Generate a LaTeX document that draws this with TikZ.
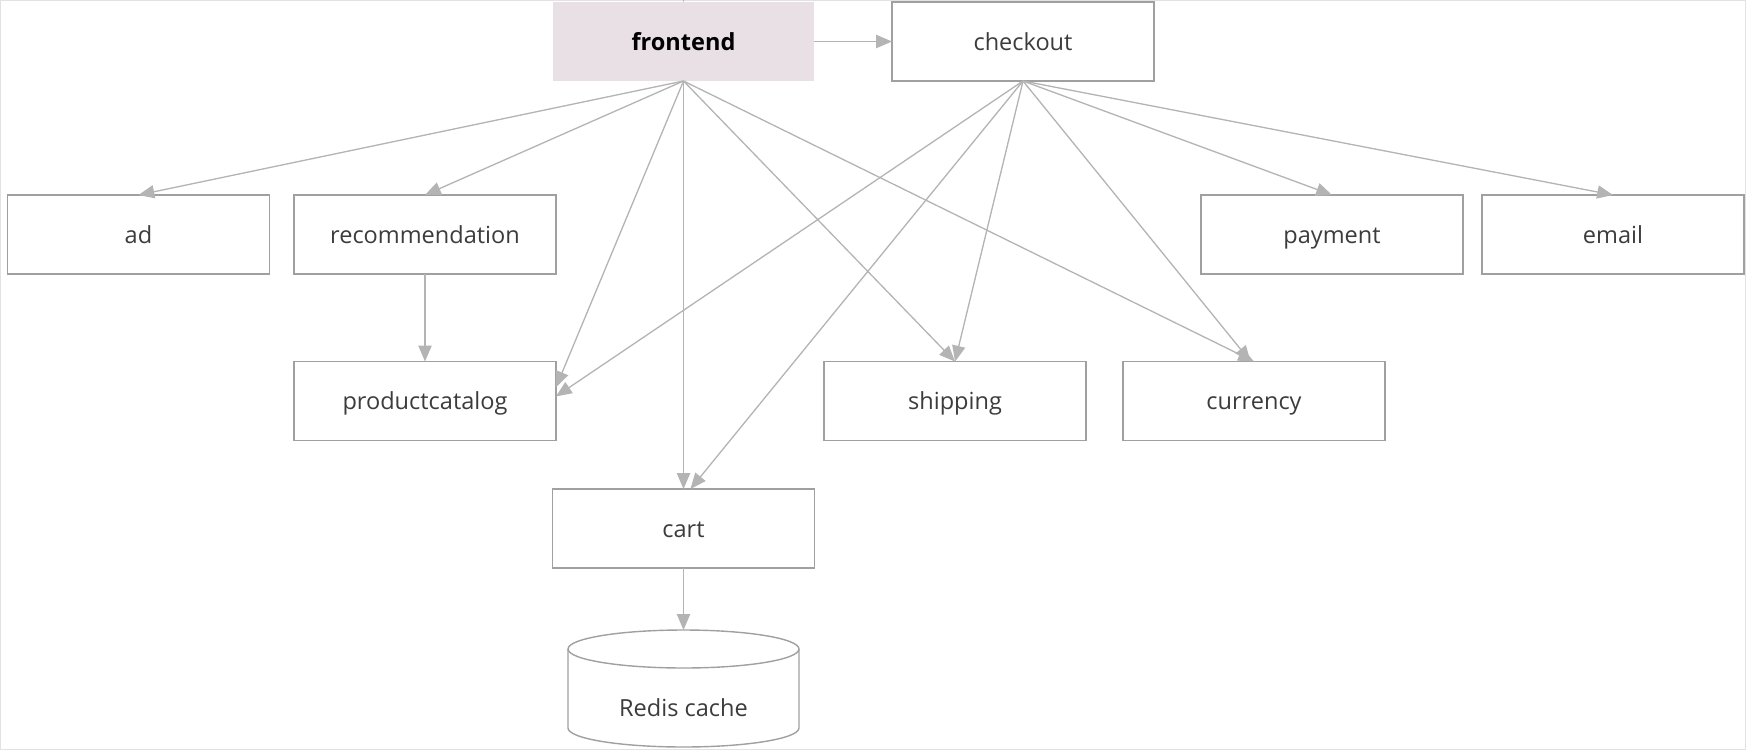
\documentclass[tikz,border=0pt]{standalone}
\usepackage{fontspec}
\setmainfont{Open Sans}
\usetikzlibrary{arrows.meta}
\definecolor{edgegray}{HTML}{B4B4B4}
\definecolor{boxgray}{HTML}{A0A0A0}
\definecolor{textgray}{HTML}{3C3C3C}
\definecolor{frontfill}{HTML}{E8E0E4}
\definecolor{framegray}{HTML}{E2E2E2}
\begin{document}
\begin{tikzpicture}[x=0.02cm,y=-0.02cm,
  svc/.style={draw=boxgray,line width=0.8pt,minimum width=5.24cm,minimum height=1.58cm,
    inner sep=0pt,outer sep=0pt,text=textgray,text height=1em,text depth=0pt,
    font=\fontsize{13.4}{15}\selectfont},
  call/.style={draw=edgegray,line width=0.75pt,-{Triangle[length=9pt,width=7.5pt]}}]
\useasboundingbox (0,0) rectangle (1746,750);
\clip (0,0) rectangle (1746,750);
\draw[framegray,line width=0.6pt] (0.5,0.5) rectangle (1745.5,749.5);
\node[svc,draw=none,fill=frontfill,text=black,font=\fontsize{13.4}{15}\selectfont\bfseries] (frontend) at (683.5,41.5) {frontend};
\node[svc] (checkout) at (1023,41.5) {checkout};
\foreach \n/\x/\y in {ad/138.5/234.5, recommendation/425/234.5, payment/1332/234.5, email/1613/234.5,
  productcatalog/425/401, shipping/955/401, currency/1254/401, cart/683.5/528.5}
  \node[svc] (\n) at (\x,\y) {\n};
% redis cache: node for the text, outline drawn by hand
\node[svc,draw=none,minimum width=4.62cm,minimum height=2.34cm,text height=31.9pt] (redis) at (683.5,688.5) {Redis cache};
\draw[boxgray,line width=0.8pt] (683.5,649) ellipse [x radius=2.31cm,y radius=0.38cm];
\draw[boxgray,line width=0.8pt] (568,649) -- (568,728) arc[start angle=180,end angle=360,x radius=2.31cm,y radius=0.38cm] -- (799,649);
\coordinate (entry) at (686,-40);
\draw[call] (entry) -- (frontend.north);
\draw[call] (frontend) -- (checkout);
\foreach \t in {ad.north,recommendation.north,productcatalog.6,cart.north,shipping.north,currency.north}
  \draw[call] (frontend.south) -- (\t);
\foreach \t in {productcatalog.2,cart.80,shipping.north,currency.95,payment.north,email.north}
  \draw[call] (checkout.south) -- (\t);
\draw[call] (recommendation) -- (productcatalog);
\draw[call] (cart) -- (redis);
\end{tikzpicture}
\end{document}
